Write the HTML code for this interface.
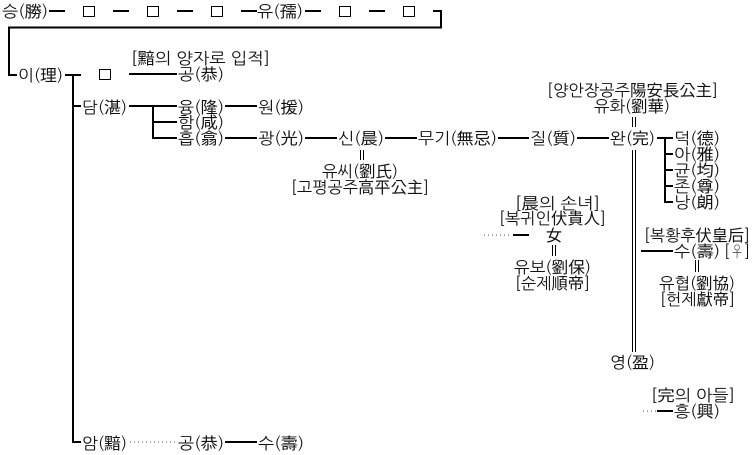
<!DOCTYPE html>
<html><head><meta charset="utf-8"><style>
html,body{margin:0;padding:0;background:#fff;width:755px;height:455px;overflow:hidden}
svg{display:block}
text{font-family:"WenQuanYi Zen Hei","NanumGothic","Noto Sans CJK KR","Liberation Sans",sans-serif;font-size:16px;fill:#111;white-space:pre}
.l{stroke:#000;stroke-width:2;fill:none}
.t{stroke:#000;stroke-width:1;fill:none}
.d{stroke:#555;stroke-width:1;stroke-dasharray:1 3;fill:none}
.b{stroke:#000;stroke-width:1;fill:#fff}
</style></head><body>
<svg width="755" height="455" viewBox="0 0 755 455" xmlns="http://www.w3.org/2000/svg">
<path class="l" d="M49 11H65M113 11H129M177 11H193M241 11H257M305 11H321M369 11H385M433 11H441V27.500H9V75H17"/>
<path class="l" d="M65 75H81M73 75V442H81M129 74H177M73 106H81M129 106H177M153 106V138H177M153 122H177M225 106H257M225 138H257M305 138H337M385 138H417M498 138H529M577 138H609M657 138H673M665 138V202H673M665 154H673M665 170H673M665 186H673M513 235H529M641 251H673M657 411H673M225 442H257"/>
<path class="t" d="M360.500 150V160M363.500 150V160M632.500 117V127M635.500 117V127M632.500 150V352M635.500 150V352M552.500 245V256M555.500 245V256M695.500 260V272M698.500 260V272"/>
<path class="d" d="M484 235H512M643 411H657M130 442H177"/>
<rect class="b" x="83.500" y="6.500" width="11" height="10"/>
<rect class="b" x="147.500" y="6.500" width="11" height="10"/>
<rect class="b" x="211.500" y="6.500" width="11" height="10"/>
<rect class="b" x="339.500" y="6.500" width="11" height="10"/>
<rect class="b" x="403.500" y="6.500" width="11" height="10"/>
<rect class="b" x="99.500" y="69.500" width="11" height="10"/>
<text x="2" y="17" textLength="46" lengthAdjust="spacingAndGlyphs">승(勝)</text>
<text x="257" y="17" textLength="46" lengthAdjust="spacingAndGlyphs">유(孺)</text>
<text x="18" y="81" textLength="45" lengthAdjust="spacingAndGlyphs">이(理)</text>
<text x="131" y="64" textLength="139" lengthAdjust="spacingAndGlyphs">[黯의 양자로 입적]</text>
<text x="178" y="80" textLength="46" lengthAdjust="spacingAndGlyphs">공(恭)</text>
<text x="82" y="113" textLength="45" lengthAdjust="spacingAndGlyphs">담(湛)</text>
<text x="178" y="113" textLength="46" lengthAdjust="spacingAndGlyphs">융(隆)</text>
<text x="258" y="113" textLength="46" lengthAdjust="spacingAndGlyphs">원(援)</text>
<text x="178" y="128" textLength="46" lengthAdjust="spacingAndGlyphs">함(咸)</text>
<text x="178" y="144" textLength="46" lengthAdjust="spacingAndGlyphs">흡(翕)</text>
<text x="258" y="144" textLength="46" lengthAdjust="spacingAndGlyphs">광(光)</text>
<text x="338" y="144" textLength="46" lengthAdjust="spacingAndGlyphs">신(晨)</text>
<text x="418" y="144" textLength="79" lengthAdjust="spacingAndGlyphs">무기(無忌)</text>
<text x="530" y="144" textLength="46" lengthAdjust="spacingAndGlyphs">질(質)</text>
<text x="610" y="144" textLength="45" lengthAdjust="spacingAndGlyphs">완(完)</text>
<text x="322" y="177" textLength="76" lengthAdjust="spacingAndGlyphs">유씨(劉氏)</text>
<text x="291" y="193" textLength="138" lengthAdjust="spacingAndGlyphs">[고평공주高平公主]</text>
<text x="547" y="96" textLength="171" lengthAdjust="spacingAndGlyphs">[양안장공주陽安長公主]</text>
<text x="594" y="112" textLength="76" lengthAdjust="spacingAndGlyphs">유화(劉華)</text>
<text x="674" y="144" textLength="46" lengthAdjust="spacingAndGlyphs">덕(德)</text>
<text x="674" y="160" textLength="46" lengthAdjust="spacingAndGlyphs">아(雅)</text>
<text x="674" y="176" textLength="46" lengthAdjust="spacingAndGlyphs">균(均)</text>
<text x="674" y="192" textLength="46" lengthAdjust="spacingAndGlyphs">존(尊)</text>
<text x="674" y="208" textLength="46" lengthAdjust="spacingAndGlyphs">낭(朗)</text>
<text x="515" y="209" textLength="85" lengthAdjust="spacingAndGlyphs">[晨의 손녀]</text>
<text x="499" y="224" textLength="107" lengthAdjust="spacingAndGlyphs">[복귀인伏貴人]</text>
<text x="546" y="241">女</text>
<text x="514" y="273" textLength="77" lengthAdjust="spacingAndGlyphs">유보(劉保)</text>
<text x="515" y="289" textLength="75" lengthAdjust="spacingAndGlyphs">[순제順帝]</text>
<text x="644" y="241" textLength="106" lengthAdjust="spacingAndGlyphs">[복황후伏皇后]</text>
<text x="674" y="257" textLength="46" lengthAdjust="spacingAndGlyphs">수(壽)</text>
<text x="724" y="257" textLength="26" lengthAdjust="spacingAndGlyphs">[♀]</text>
<text x="659" y="289" textLength="76" lengthAdjust="spacingAndGlyphs">유협(劉協)</text>
<text x="660" y="305" textLength="75" lengthAdjust="spacingAndGlyphs">[헌제獻帝]</text>
<text x="610" y="368" textLength="45" lengthAdjust="spacingAndGlyphs">영(盈)</text>
<text x="651" y="401" textLength="84" lengthAdjust="spacingAndGlyphs">[完의 아들]</text>
<text x="674" y="417" textLength="46" lengthAdjust="spacingAndGlyphs">흥(興)</text>
<text x="82" y="449" textLength="45" lengthAdjust="spacingAndGlyphs">암(黯)</text>
<text x="178" y="449" textLength="46" lengthAdjust="spacingAndGlyphs">공(恭)</text>
<text x="258" y="449" textLength="46" lengthAdjust="spacingAndGlyphs">수(壽)</text>
</svg>
</body></html>
